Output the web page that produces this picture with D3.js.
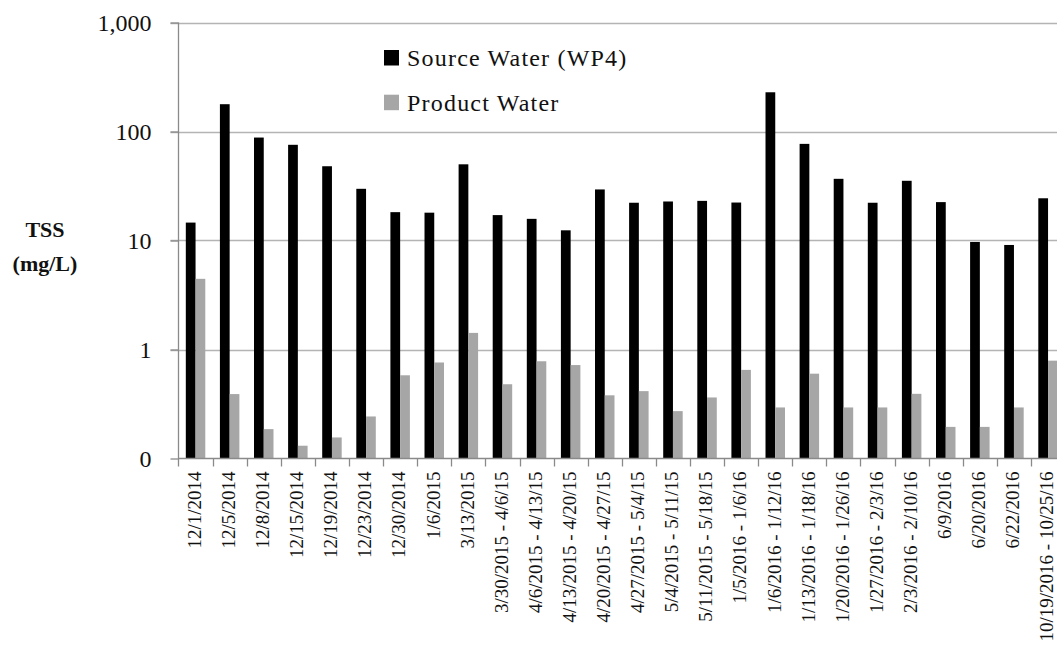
<!DOCTYPE html>
<html>
<head>
<meta charset="utf-8">
<title>TSS Source vs Product Water</title>
<style>
  body { margin: 0; background: #fff; overflow: hidden; }
  svg { display: block; }
</style>
</head>
<body>
<script src="https://d3js.org/d3.v7.min.js"></script>
<script>
// categories (sampling dates / periods)
const categories = [
  "12/1/2014", "12/5/2014", "12/8/2014", "12/15/2014", "12/19/2014", "12/23/2014",
  "12/30/2014", "1/6/2015", "3/13/2015", "3/30/2015 - 4/6/15", "4/6/2015 - 4/13/15",
  "4/13/2015 - 4/20/15", "4/20/2015 - 4/27/15", "4/27/2015 - 5/4/15", "5/4/2015 - 5/11/15",
  "5/11/2015 - 5/18/15", "1/5/2016 - 1/6/16", "1/6/2016 - 1/12/16", "1/13/2016 - 1/18/16",
  "1/20/2016 - 1/26/16", "1/27/2016 - 2/3/16", "2/3/2016 - 2/10/16", "6/9/2016",
  "6/20/2016", "6/22/2016", "10/19/2016 - 10/25/16"
];

const seriesNames = ["Source Water (WP4)", "Product Water"];

// TSS, mg/L
const sourceWater = [
  14.6, 178, 88, 75.5, 48, 29.8, 18.2, 18.0, 50, 17.1, 15.8, 12.4, 29.4,
  22.2, 22.8, 23.1, 22.3, 229, 77, 36.8, 22.2, 35.3, 22.5, 9.7, 9.1, 24.4
];
const productWater = [
  4.45, 0.39, 0.186, 0.131, 0.156, 0.243, 0.58, 0.76, 1.42, 0.48, 0.78, 0.72, 0.38,
  0.415, 0.272, 0.363, 0.65, 0.294, 0.6, 0.294, 0.294, 0.392, 0.195, 0.195, 0.294, 0.79
];

const yTicks = [0.1, 1, 10, 100, 1000];

const colors = ["#000000", "#a6a6a6"];

const chart = function() {
  const width = 1057, height = 653;
  const plotLeft = 178.5, plotTop = 22.5, plotBottom = 458.5;
  const step = 34.1;
  const serif = "'Liberation Serif', 'Times New Roman', serif";

  const svg = d3.select("body").append("svg")
    .attr("width", width)
    .attr("height", height)
    .style("font-family", serif);

  const x0 = d3.scaleBand()
    .domain(categories)
    .range([plotLeft, plotLeft + step * categories.length])
    .paddingInner(0)
    .paddingOuter(0);

  const x1 = d3.scaleBand()
    .domain(seriesNames)
    .range([0, x0.bandwidth()])
    .paddingInner(0)
    .paddingOuter(0.75);

  const y = d3.scaleLog()
    .domain([0.1, 1000])
    .range([plotBottom, plotTop]);

  // gridlines
  svg.append("g")
    .selectAll("line")
    .data(yTicks.slice(1))
    .join("line")
      .attr("x1", plotLeft - 8)
      .attr("x2", width)
      .attr("y1", d => Math.round(y(d)) + 0.5)
      .attr("y2", d => Math.round(y(d)) + 0.5)
      .attr("stroke", "#b4b4b4")
      .attr("stroke-width", 1.3);

  // bars
  const rows = categories.map((c, i) => ({ cat: c, values: [sourceWater[i], productWater[i]] }));

  svg.append("g")
    .selectAll("g")
    .data(rows)
    .join("g")
      .attr("transform", d => `translate(${x0(d.cat)},0)`)
    .selectAll("rect")
    .data(d => d.values.map((v, k) => ({ name: seriesNames[k], v, k })))
    .join("rect")
      .attr("x", d => x1(d.name))
      .attr("width", x1.bandwidth())
      .attr("y", d => y(d.v))
      .attr("height", d => y(0.1) - y(d.v))
      .attr("fill", d => colors[d.k]);

  // y axis
  const yAxis = d3.axisLeft(y)
    .tickValues(yTicks)
    .tickSize(8)
    .tickPadding(19)
    .tickFormat(d => d < 1 ? "0" : d3.format(",")(d));

  const ya = svg.append("g")
    .attr("transform", `translate(${plotLeft},0)`)
    .call(yAxis);
  ya.select(".domain").attr("stroke", "#8a8a8a").attr("stroke-width", 1.3)
    .attr("d", `M0,${plotTop}V${plotBottom + 8}`);
  ya.selectAll(".tick line").attr("stroke", "#8a8a8a").attr("stroke-width", 1.3);
  ya.selectAll(".tick text")
    .attr("font-size", 24)
    .attr("fill", "#111")
    .attr("font-family", serif);

  // x axis
  const xa = svg.append("g")
    .attr("transform", `translate(0,${plotBottom})`);
  xa.append("line")
    .attr("x1", plotLeft).attr("x2", width)
    .attr("stroke", "#8a8a8a").attr("stroke-width", 1.3);
  xa.selectAll(".xt")
    .data(categories)
    .join("line")
      .attr("class", "xt")
      .attr("x1", d => Math.round(x0(d) + step) + 0.5)
      .attr("x2", d => Math.round(x0(d) + step) + 0.5)
      .attr("y1", 0).attr("y2", 8)
      .attr("stroke", "#8a8a8a").attr("stroke-width", 1.3);

  xa.selectAll(".xl")
    .data(categories)
    .join("text")
      .attr("class", "xl")
      .attr("transform", d => `translate(${x0(d) + x0.bandwidth() / 2},13) rotate(-90)`)
      .attr("text-anchor", "end")
      .attr("dy", "0.28em")
      .attr("font-size", 19)
      .attr("fill", "#111")
      .text(d => d);

  // y title
  const yt = svg.append("text")
    .attr("text-anchor", "middle")
    .attr("font-weight", "bold")
    .attr("font-size", 22)
    .attr("fill", "#111");
  yt.append("tspan").attr("x", 45).attr("y", 237).text("TSS");
  yt.append("tspan").attr("x", 45).attr("y", 271).text("(mg/L)");

  // legend
  const legend = svg.append("g")
    .selectAll("g")
    .data(seriesNames)
    .join("g")
      .attr("transform", (d, i) => `translate(384,${50 + i * 44.7})`);
  legend.append("rect")
    .attr("width", 15).attr("height", 15.5)
    .attr("fill", (d, i) => colors[i]);
  legend.append("text")
    .attr("x", 23)
    .attr("y", 16)
    .attr("font-size", 24)
    .attr("letter-spacing", 1.2)
    .attr("fill", "#111")
    .text(d => d);

  return svg.node();
}();
</script>
</body>
</html>
